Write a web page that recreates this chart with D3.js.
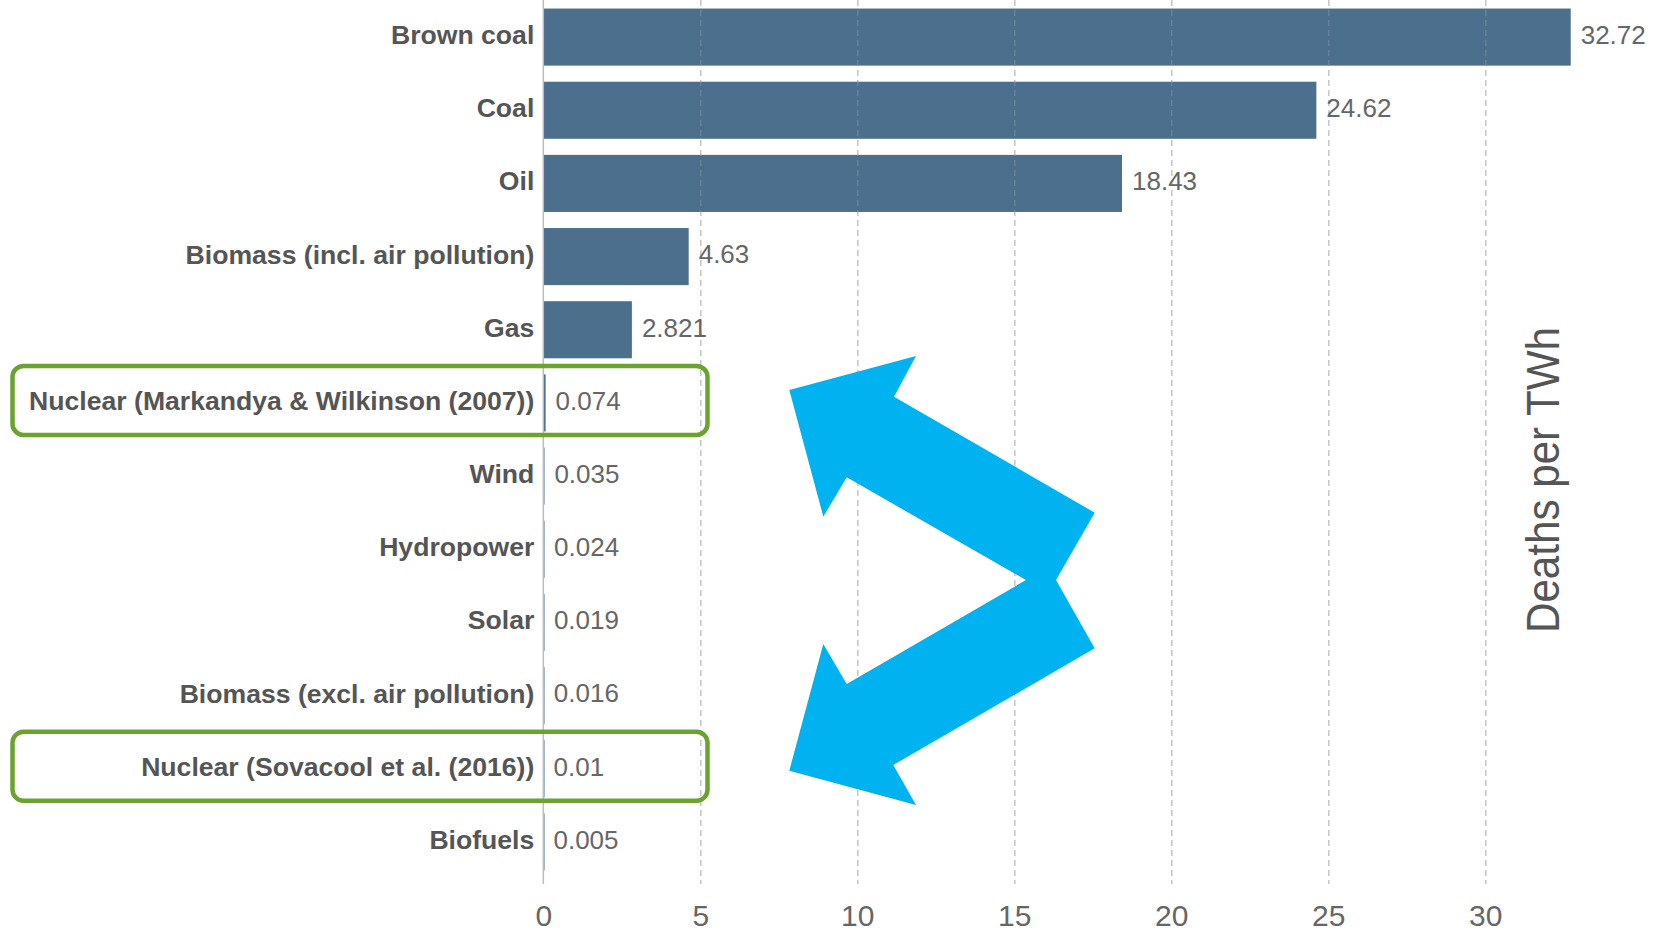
<html>
<head>
<script src="https://d3js.org/d3.v7.min.js"></script>
<style>
  body { margin: 0; background: #fff; }
  .gridlines line { stroke: #c8c8c8; stroke-dasharray: 6 4; stroke-width: 1.5; }
  .gridlines .domain { stroke: none; }
  .xaxis .domain, .xaxis line { stroke: none; }
  .xaxis text { font-family: "Liberation Sans", Arial, sans-serif; font-size: 30px; fill: #666; }
</style>
</head>
<body>
<svg id="chart" width="1654" height="932"></svg>
<script>
const categories = ['Brown coal', 'Coal', 'Oil', 'Biomass (incl. air pollution)', 'Gas',
  'Nuclear (Markandya & Wilkinson (2007))', 'Wind', 'Hydropower', 'Solar',
  'Biomass (excl. air pollution)', 'Nuclear (Sovacool et al. (2016))', 'Biofuels'];
const deaths = [32.72, 24.62, 18.43, 4.63, 2.821, 0.074, 0.035, 0.024, 0.019, 0.016, 0.01, 0.005];
const labels = ['32.72', '24.62', '18.43', '4.63', '2.821', '0.074', '0.035', '0.024', '0.019', '0.016', '0.01', '0.005'];
const xTicks = [0, 5, 10, 15, 20, 25, 30];
const highlighted = ['Nuclear (Markandya & Wilkinson (2007))', 'Nuclear (Sovacool et al. (2016))'];

const svg = d3.select('svg#chart');
const x0 = 543.3, plotBottom = 884;

let xScale = d3.scaleLinear().domain([0, 30]).range([x0, x0 + 30 * 31.4]);
let yScale = d3.scaleBand().domain(categories).range([0.5, 878.5]).paddingInner(0.22).paddingOuter(0.11);

let data = categories.map((c, i) => ({ cat: c, v: deaths[i], label: labels[i] }));

let xGrid = d3.axisBottom(xScale).tickValues(xTicks.slice(1)).tickSize(plotBottom).tickFormat('');

// gridlines behind bars
svg.append('g').attr('class', 'gridlines').call(xGrid);

// bars
svg.append('g').selectAll('rect').data(data).join('rect')
  .attr('x', xScale(0))
  .attr('y', d => yScale(d.cat))
  .attr('width', d => Math.max(xScale(d.v) - xScale(0), 1.2))
  .attr('height', yScale.bandwidth())
  .attr('fill', '#4b6f8c');

// faint gridlines showing through the bars
svg.append('g').attr('class', 'gridlines').attr('opacity', 0.22).call(xGrid);

// zero line
svg.append('line')
  .attr('x1', xScale(0)).attr('x2', xScale(0))
  .attr('y1', 0).attr('y2', plotBottom)
  .attr('stroke', '#bdbdbd').attr('stroke-width', 1.5);

// x axis labels
let xAxis = d3.axisBottom(xScale).tickValues(xTicks).tickSize(0).tickPadding(0);
svg.append('g').attr('class', 'xaxis').attr('transform', `translate(0, 905)`).call(xAxis)
  .selectAll('text').attr('dy', '0.71em').attr('y', 0);

const mid = c => yScale(c) + yScale.bandwidth() / 2 - 2.5;

// category labels
svg.append('g').selectAll('text').data(data).join('text')
  .attr('x', xScale(0) - 9)
  .attr('y', d => mid(d.cat))
  .attr('dy', '0.36em')
  .attr('text-anchor', 'end')
  .attr('font-family', '"Liberation Sans", Arial, sans-serif')
  .attr('font-weight', 'bold')
  .attr('font-size', 26.6)
  .attr('fill', '#555')
  .text(d => d.cat);

// value labels
svg.append('g').selectAll('text').data(data).join('text')
  .attr('x', d => xScale(d.v) + 10)
  .attr('y', d => mid(d.cat))
  .attr('dy', '0.36em')
  .attr('font-family', '"Liberation Sans", Arial, sans-serif')
  .attr('font-size', 26)
  .attr('fill', '#666')
  .text(d => d.label);

// axis title
svg.append('text')
  .attr('transform', 'translate(1559, 480) rotate(-90)')
  .attr('text-anchor', 'middle')
  .attr('font-family', '"Liberation Sans", Arial, sans-serif')
  .attr('font-size', 46)
  .attr('textLength', 306)
  .attr('lengthAdjust', 'spacingAndGlyphs')
  .attr('fill', '#555')
  .text('Deaths per TWh');

// green highlight boxes
svg.append('g').selectAll('rect').data(highlighted).join('rect')
  .attr('x', 12.5)
  .attr('y', d => mid(d) - 34.5)
  .attr('width', 695)
  .attr('height', 69)
  .attr('rx', 11)
  .attr('fill', 'none')
  .attr('stroke', '#6aa42f')
  .attr('stroke-width', 4.5);

// blue double arrow
const arrowPts = [[789.3, 390], [916, 356], [894, 396.7], [1094.7, 512.7], [1056, 580],
  [1094.7, 648.3], [893.3, 765], [916, 805], [789.3, 770.7], [823.3, 644], [846.7, 684],
  [1026, 580], [846.7, 477.3], [823.3, 516.7]];
svg.append('path')
  .attr('d', d3.line()(arrowPts) + 'Z')
  .attr('fill', '#00b2f0');
</script>
</body>
</html>
